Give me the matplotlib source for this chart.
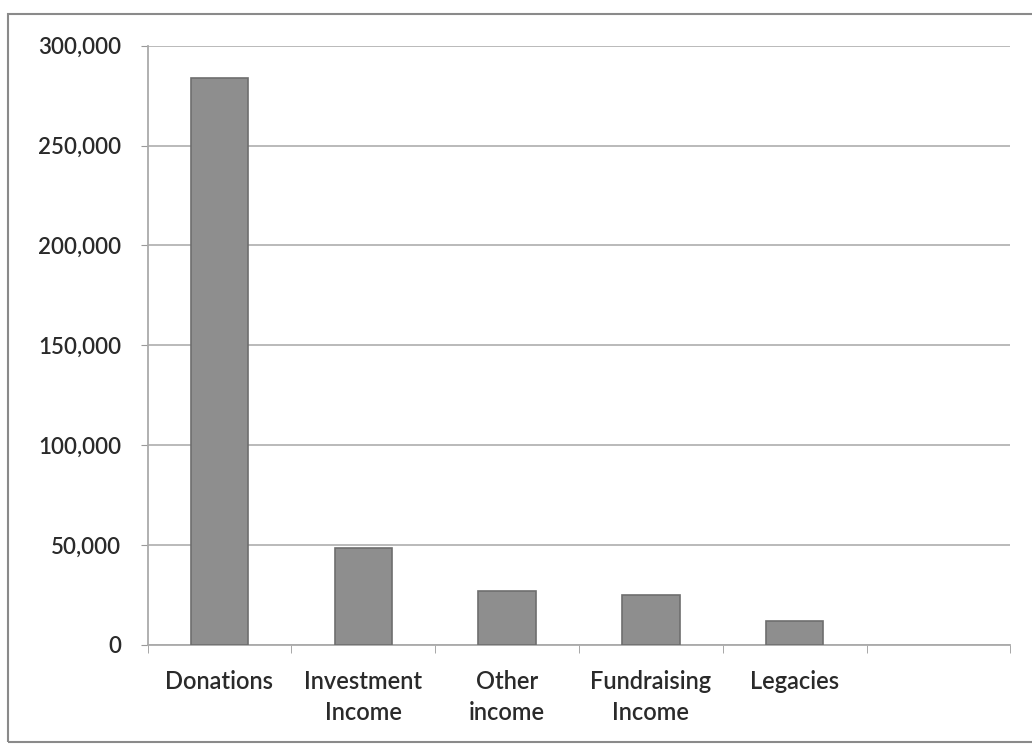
import matplotlib.pyplot as plt
from matplotlib.ticker import FuncFormatter
from matplotlib.patches import Rectangle

# income categories (last slot on the axis is empty in the original)
categories = ["Donations", "Investment\nIncome", "Other\nincome", "Fundraising\nIncome", "Legacies", ""]
values = [284000, 48500, 27000, 25000, 12000]
y_ticks = [0, 50000, 100000, 150000, 200000, 250000, 300000]

plt.rcParams['font.family'] = ['Lato', 'DejaVu Sans']

fig = plt.figure(figsize=(10.32, 7.49), dpi=100)
ax = fig.add_axes([0.143, 0.139, 0.836, 0.8])

# chart area frame
fig.patches.append(Rectangle((0.008, 0.009), 1.1, 0.972, transform=fig.transFigure,
                             fill=False, edgecolor='#8a8a8a', linewidth=1.5, clip_on=False))

ax.bar(range(len(values)), values, width=0.4, color='#8e8e8e', edgecolor='#6e6e6e',
       linewidth=1.2, zorder=3)

ax.set_xlim(-0.5, len(categories) - 0.5)
ax.set_ylim(0, 300000)
ax.set_yticks(y_ticks)
ax.yaxis.set_major_formatter(FuncFormatter(lambda v, p: f"{int(v):,}"))
ax.set_xticks(range(len(categories)))
ax.set_xticklabels(categories, fontsize=17, color='#2a2a2a', linespacing=1.45,
                   fontweight='semibold')
ax.tick_params(axis='y', labelsize=16, labelcolor='#2a2a2a', length=5, color='#999999', pad=14)
for lbl in ax.get_yticklabels():
    lbl.set_fontweight('semibold')
ax.tick_params(axis='x', length=0, pad=18)
# category boundary ticks
ax.set_xticks([i - 0.5 for i in range(len(categories) + 1)], minor=True)
ax.tick_params(axis='x', which='minor', length=6, color='#999999')

ax.grid(axis='y', color='#b4b4b4', linewidth=1.3, zorder=0)
for side in ['top', 'right']:
    ax.spines[side].set_visible(False)
ax.spines['left'].set_color('#aaaaaa')
ax.spines['bottom'].set_color('#aaaaaa')
ax.spines['left'].set_linewidth(1.3)
ax.spines['bottom'].set_linewidth(1.3)

fig.savefig("out.png", dpi=100, facecolor='white')
